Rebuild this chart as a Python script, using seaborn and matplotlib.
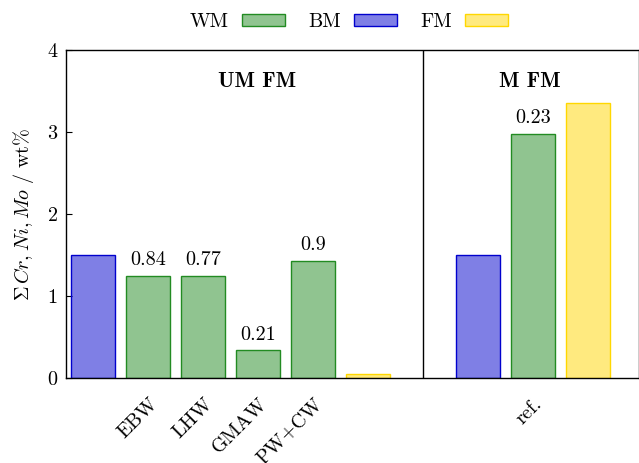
import matplotlib
matplotlib.use("Agg")
import matplotlib.pyplot as plt
from matplotlib.colors import to_rgba
from matplotlib.patches import Patch
import pandas as pd
import seaborn as sns

# Alloy content of base metal (BM), weld metal (WM) and filler metal (FM)
processes = ["EBW", "LHW", "GMAW", "PW+CW"]
um_bm = 1.50
um_wm = [1.25, 1.25, 0.34, 1.43]
um_fm = 0.05
um_wm_notes = ["0.84", "0.77", "0.21", "0.9"]

ref_name = "ref."
ref_bm = 1.50
ref_wm = 2.98
ref_fm = 3.35
ref_wm_note = "0.23"

materials = ["WM", "BM", "FM"]
colors = {"WM": "forestgreen", "BM": "mediumblue", "FM": "gold"}

# Build the long-form table: unmatched filler group, a gap, matched filler group
rows = []
pos = 0
rows.append((pos, um_bm, "BM", "")); pos += 1
for name, v, note in zip(processes, um_wm, um_wm_notes):
    rows.append((pos, v, "WM", note)); pos += 1
rows.append((pos, um_fm, "FM", "")); pos += 1
sep_pos = pos
pos += 1
rows.append((pos, ref_bm, "BM", "")); pos += 1
rows.append((pos, ref_wm, "WM", ref_wm_note)); pos += 1
rows.append((pos, ref_fm, "FM", "")); pos += 1
df = pd.DataFrame(rows, columns=["pos", "value", "material", "note"])

sns.set_style("white")
plt.rcParams["font.family"] = ["cmr10", "DejaVu Serif"]
plt.rcParams["mathtext.fontset"] = "cm"
plt.rcParams["axes.formatter.use_mathtext"] = True
plt.rcParams["axes.unicode_minus"] = False
plt.rcParams["text.color"] = "black"
plt.rcParams["axes.labelcolor"] = "black"
plt.rcParams["xtick.color"] = "black"
plt.rcParams["ytick.color"] = "black"

FS = 14.5

fig = plt.figure(figsize=(6.39, 4.63), dpi=100)
ax = fig.add_axes([66 / 639, 1 - 378 / 463, 1 - 66 / 639, (378 - 50) / 463])

sns.barplot(data=df, x="pos", y="value", hue="material", hue_order=materials,
            native_scale=True, dodge=False, width=0.8, saturation=1,
            palette=colors, legend=False, ax=ax)

for mat, container in zip(materials, ax.containers):
    for bar in container:
        bar.set_facecolor(to_rgba(colors[mat], 0.5))
        bar.set_edgecolor(colors[mat])
        bar.set_linewidth(1.0)

for _, r in df.iterrows():
    if r["note"]:
        ax.text(r["pos"], r["value"] + 0.08, r["note"], ha="center", va="bottom",
                fontsize=FS)

ax.axvline(sep_pos, color="black", lw=1.0)
ax.text(2.98, 3.62, "UM FM", fontfamily="cmb10", fontsize=15.5, ha="center", va="center")
ax.text(7.95, 3.62, "M FM", fontfamily="cmb10", fontsize=15.5, ha="center", va="center")

ax.set_xlim(-0.5, 9.93)
ax.set_ylim(0, 4)
ax.set_yticks([0, 1, 2, 3, 4])
ax.set_yticklabels(["0", "1", "2", "3", "4"])
ax.tick_params(axis="y", direction="in", length=4, width=0.8, labelsize=FS, pad=6, left=True)

tick_pos = [1, 2, 3, 4, 8]
ax.set_xticks(tick_pos)
ax.set_xticklabels(processes + [ref_name], rotation=45, ha="right",
                   rotation_mode="anchor", fontsize=FS)
ax.tick_params(axis="x", length=0, pad=12)
ax.set_xlabel("")
ax.set_ylabel(r"$\Sigma\, Cr, Ni, Mo\ /\ \mathrm{wt\%}$", fontsize=FS, labelpad=8)

for s in ax.spines.values():
    s.set_color("black")
    s.set_linewidth(1.0)

handles = [Patch(facecolor=to_rgba(colors[m], 0.5), edgecolor=colors[m], label=m)
           for m in materials]
fig.legend(handles=handles, loc="center", bbox_to_anchor=(349 / 639, 1 - 22 / 463),
           ncol=3, frameon=False, markerfirst=False, fontsize=FS,
           handlelength=2.15, handleheight=0.5, columnspacing=1.15, handletextpad=0.65)

fig.savefig("out.png", dpi=100)
